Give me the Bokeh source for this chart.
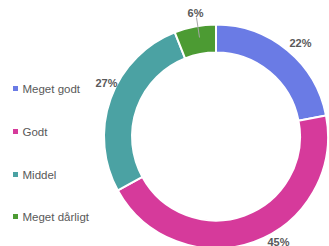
import numpy as np
from bokeh.plotting import figure
from bokeh.models import Range1d, ColumnDataSource
from bokeh.core.properties import value
from bokeh.embed import file_html
from bokeh.resources import INLINE

categories = ["Meget godt", "Godt", "Middel", "Meget dårligt"]
values = [22, 45, 27, 6]
labels = ["22%", "45%", "27%", "6%"]
colors = ["#6A7BE5", "#D63A9B", "#4BA2A3", "#4C9B33"]

# layout (pixel-like data space, y up)
W, H = 329, 246
cx, cy = 215.5, 110.0
r_out, r_in = 112, 84

p = figure(width=W, height=H, output_backend="svg", toolbar_location=None,
           x_range=Range1d(0, W), y_range=Range1d(0, H), min_border=0)
p.axis.visible = False
p.grid.visible = False
p.outline_line_color = None
p.background_fill_color = "white"
p.border_fill_color = "white"

fr = np.array(values, dtype=float) / sum(values)
cum = np.concatenate([[0], np.cumsum(fr)])
start = np.pi / 2 - 2 * np.pi * cum[:-1]
end = np.pi / 2 - 2 * np.pi * cum[1:]
src = ColumnDataSource(dict(start=start, end=end, color=colors))
p.annular_wedge(x=cx, y=cy, inner_radius=r_in, outer_radius=r_out,
                start_angle="start", end_angle="end", direction="clock",
                fill_color="color", line_color="white", line_width=2, source=src)

# data labels
lx = [300, 278, 106, 195]
ly = [204, 5, 164, 234]
p.text(x=lx, y=ly, text=labels, text_font=value("Liberation Sans"),
       text_font_style="bold", text_font_size="11px", text_color="#595959",
       text_align="center", text_baseline="middle")
# leader line for small slice
p.line(x=[196, 199], y=[229, 209], line_color="#A6A6A6", line_width=1)

# legend
leg_y = [158, 115, 72, 30]
p.scatter(x=[15] * 4, y=leg_y, marker="square", size=5, fill_color=colors, line_color=None)
p.text(x=[22] * 4, y=leg_y, text=categories, text_font=value("Liberation Sans"),
       text_font_size="11.5px", text_color="#595959", text_baseline="middle")

open("out.html", "w").write(file_html(p, INLINE))
